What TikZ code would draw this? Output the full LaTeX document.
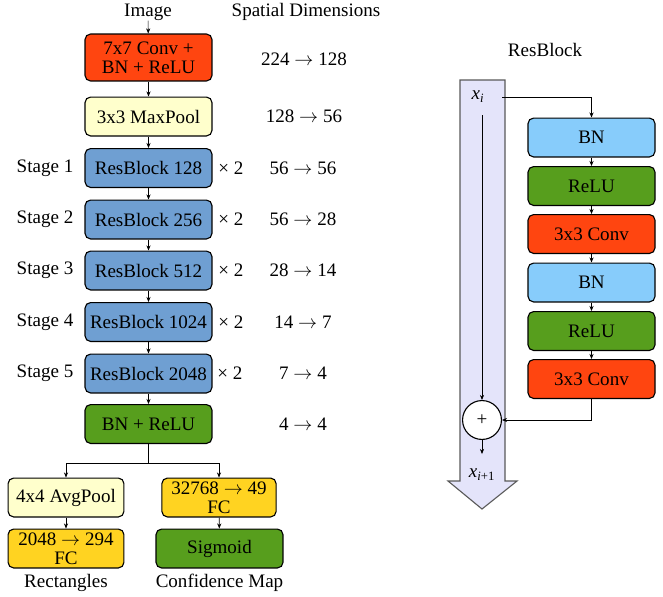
\documentclass[tikz,border=0pt]{standalone}
\usepackage{fontspec}
\setmainfont{Liberation Serif}
\usetikzlibrary{arrows.meta}

\definecolor{convred}{HTML}{FF4510}
\definecolor{poolyellow}{HTML}{FFFFCC}
\definecolor{resblue}{HTML}{6F9FD2}
\definecolor{actgreen}{HTML}{579E1D}
\definecolor{fcyellow}{HTML}{FFD321}
\definecolor{bnblue}{HTML}{87CCFB}
\definecolor{skipband}{HTML}{E4E4FA}

\newcommand{\dimto}{\ensuremath{\rightarrow}}

\tikzset{
  blk/.style={draw, line width=0.7pt, rounded corners=3.5pt, minimum width=80pt, minimum height=24.5pt, inner sep=1pt, align=center},
  lbl/.style={inner sep=0pt},
}

\begin{document}
\begin{tikzpicture}[x=0.63pt,y=-0.63pt,>={Stealth[length=3.2pt,width=2.6pt]},every node/.style={font=\fontsize{12}{12}\selectfont}]
  \useasboundingbox (0,0) rectangle (663,596);

  % Main column
  \node[lbl] (img) at (148,12) {Image};
  \node[lbl] (dimtitle) at (306,12) {Spatial Dimensions};
  \node[blk, fill=convred, minimum height=29.6pt] (conv) at (148.5,57.5) {7x7 Conv +\\BN + ReLU};
  \node[blk, fill=poolyellow] (pool) at (148.5,116.5) {3x3 MaxPool};
  \node[blk, fill=resblue] (s1) at (148.5,168) {ResBlock 128};
  \node[blk, fill=resblue] (s2) at (148.5,219.5) {ResBlock 256};
  \node[blk, fill=resblue] (s3) at (148.5,270.5) {ResBlock 512};
  \node[blk, fill=resblue] (s4) at (148.5,322) {ResBlock 1024};
  \node[blk, fill=resblue] (s5) at (148.5,373.5) {ResBlock 2048};
  \node[blk, fill=actgreen] (bnrelu) at (148.5,424) {BN + ReLU};

  % Stage labels, repeats and sizes
  \node[lbl] (st1) at (45,168) {Stage 1};
  \node[lbl] (st2) at (45,219.5) {Stage 2};
  \node[lbl] (st3) at (45,270.5) {Stage 3};
  \node[lbl] (st4) at (45,322) {Stage 4};
  \node[lbl] (st5) at (45,373.5) {Stage 5};
  \node[lbl] (r1) at (231,168) {× 2};
  \node[lbl] (r2) at (231,219.5) {× 2};
  \node[lbl] (r3) at (231,270.5) {× 2};
  \node[lbl] (r4) at (231,322) {× 2};
  \node[lbl] (r5) at (230,373.5) {× 2};
  \node[lbl] (d0) at (304,59) {224 \dimto{} 128};
  \node[lbl] (d1) at (304,116.5) {128 \dimto{} 56};
  \node[lbl] (d2) at (303,168) {56 \dimto{} 56};
  \node[lbl] (d3) at (303,219.5) {56 \dimto{} 28};
  \node[lbl] (d4) at (303,270.5) {28 \dimto{} 14};
  \node[lbl] (d5) at (303,322) {14 \dimto{} 7};
  \node[lbl] (d6) at (303,373.5) {7 \dimto{} 4};
  \node[lbl] (d7) at (303,424) {4 \dimto{} 4};

  % Heads
  \coordinate (split) at (148.5,463);
  \node[blk, fill=poolyellow, minimum width=73pt] (avg) at (66,497.5) {4x4 AvgPool};
  \node[blk, fill=fcyellow, minimum width=73pt] (fcl) at (66,548.5) {2048 \dimto{} 294\\FC};
  \node[blk, fill=fcyellow, minimum width=72pt] (fcr) at (219,497.5) {32768 \dimto{} 49\\FC};
  \node[blk, fill=actgreen] (sig) at (219.5,548.5) {Sigmoid};
  \node[lbl] (rect) at (66,583) {Rectangles};
  \node[lbl] (conf) at (219.5,583) {Confidence Map};

  \draw[->] (img) -- (conv);
  \draw[->] (conv) -- (pool);
  \draw[->] (pool) -- (s1);
  \draw[->] (s1) -- (s2);
  \draw[->] (s2) -- (s3);
  \draw[->] (s3) -- (s4);
  \draw[->] (s4) -- (s5);
  \draw[->] (s5) -- (bnrelu);
  \draw (bnrelu) -- (split);
  \draw[->] (split) -| (avg);
  \draw[->] (split) -| (fcr);
  \draw[->] (avg) -- (fcl);
  \draw[->] (fcr) -- (sig);

  % ResBlock detail
  \node[lbl] (rbtitle) at (545,50) {ResBlock};
  \draw[fill=skipband, draw=black!65, line width=0.7pt] (460,80) -- (505,80) -- (505,481) -- (517,481) -- (482,509) -- (448,481) -- (460,481) -- cycle;
  \node[lbl] (xi) at (478,97) {\textit{x}\textsubscript{\textit{i}}};
  \node[lbl] (xo) at (482,475) {\textit{x}\textsubscript{\textit{i}+1}};
  \node[blk, fill=bnblue] (bn1) at (591.5,137.5) {BN};
  \node[blk, fill=actgreen] (relu1) at (591.5,186) {ReLU};
  \node[blk, fill=convred] (cv1) at (591.5,234) {3x3 Conv};
  \node[blk, fill=bnblue] (bn2) at (591.5,282.5) {BN};
  \node[blk, fill=actgreen] (relu2) at (591.5,331) {ReLU};
  \node[blk, fill=convred] (cv2) at (591.5,379) {3x3 Conv};
  \node[draw, fill=white, circle, line width=0.7pt, minimum size=24.5pt, inner sep=0pt] (add) at (482,420) {+};
  \coordinate (skiptop) at (482,115);
  \coordinate (addout) at (482,454);
  \coordinate (branch) at (502,97);

  \draw[->] (branch) -| (bn1);
  \draw[->] (bn1) -- (relu1);
  \draw[->] (relu1) -- (cv1);
  \draw[->] (cv1) -- (bn2);
  \draw[->] (bn2) -- (relu2);
  \draw[->] (relu2) -- (cv2);
  \draw[->] (cv2) |- (add);
  \draw[->] (skiptop) -- (add);
  \draw[->] (add) -- (addout);
\end{tikzpicture}
\end{document}
